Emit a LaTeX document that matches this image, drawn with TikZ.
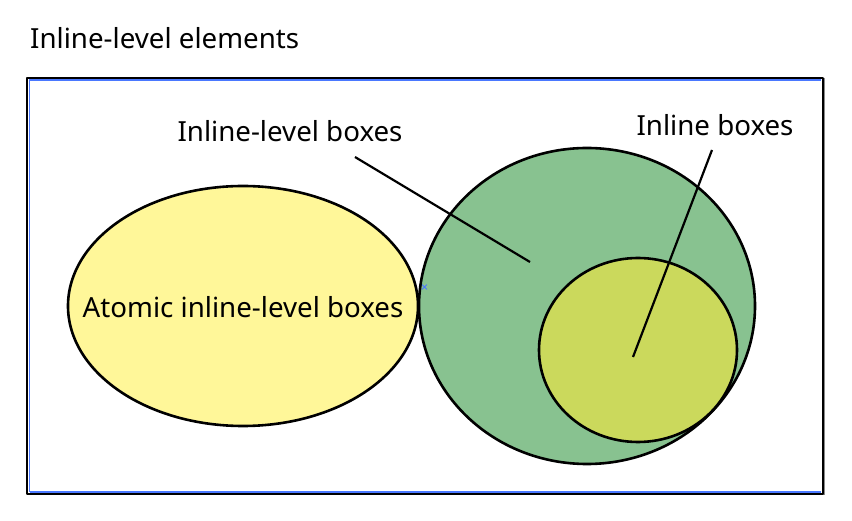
\documentclass[tikz,border=0pt]{standalone}
\usepackage{fontspec}
\setmainfont{Noto Sans}
\usetikzlibrary{shapes.geometric,shapes.misc}
\definecolor{atomicfill}{HTML}{FFF799}
\definecolor{inlevelfill}{HTML}{88C290}
\definecolor{inboxfill}{HTML}{CBD95C}
\definecolor{framblue}{HTML}{4A78FF}
\definecolor{framgray}{HTML}{8A8A8A}
\tikzset{
  setbox/.style={draw=black,line width=2.6bp,ellipse,inner sep=0pt},
  lbl/.style={font=\fontsize{27.8}{32}\selectfont,inner sep=0pt},
  ptr/.style={draw=black,line width=2.2bp},
}
\begin{document}
\begin{tikzpicture}[line join=round]
    \useasboundingbox (0bp,0bp) rectangle (852bp,521bp);
    %% frame
    \draw [framgray,line width=1.5bp] (824bp,443bp) -- (824bp,26bp);
    \draw [black,line width=2bp] (27bp,443bp) rectangle (823bp,27bp);
    \draw [framblue,line width=1.2bp] (29.5bp,29bp) -- (29.5bp,441bp) -- (821bp,441bp);
    \draw [framblue,line width=1.2bp] (29.5bp,29bp) -- (821bp,29bp);
    \node (title) at (30bp,472bp) [lbl,anchor=base west] {Inline-level elements};
    %% sets
    \node (atomic) at (243.0bp,215.0bp) [setbox,fill=atomicfill,minimum width=350bp,minimum height=240bp] {};
    \node (inlevel) at (587.0bp,215.0bp) [setbox,fill=inlevelfill,minimum width=336bp,minimum height=316bp] {};
    \node (inbox) at (638.0bp,171.0bp) [setbox,fill=inboxfill,minimum width=198bp,minimum height=184bp] {};
    \node (atomiclbl) at (243.0bp,214.0bp) [lbl] {Atomic inline-level boxes};
    \node (inlevellbl) at (290.0bp,390.0bp) [lbl] {Inline-level boxes};
    \node (inboxlbl) at (715.0bp,396.0bp) [lbl] {Inline boxes};
    %% pointers
    \coordinate (inlevelptr) at (355.0bp,364.0bp);
    \coordinate (inlevelend) at (530.0bp,259.0bp);
    \coordinate (inboxptr) at (712.0bp,371.0bp);
    \coordinate (inboxend) at (633.0bp,164.0bp);
    \draw [ptr] (inlevelptr) -- (inlevelend);
    \draw [ptr] (inboxptr) -- (inboxend);
    \node (mark) at (424.5bp,234.0bp) [cross out,draw=framblue,line width=0.8bp,minimum size=4bp,inner sep=0pt] {};
    %
\end{tikzpicture}
\end{document}
